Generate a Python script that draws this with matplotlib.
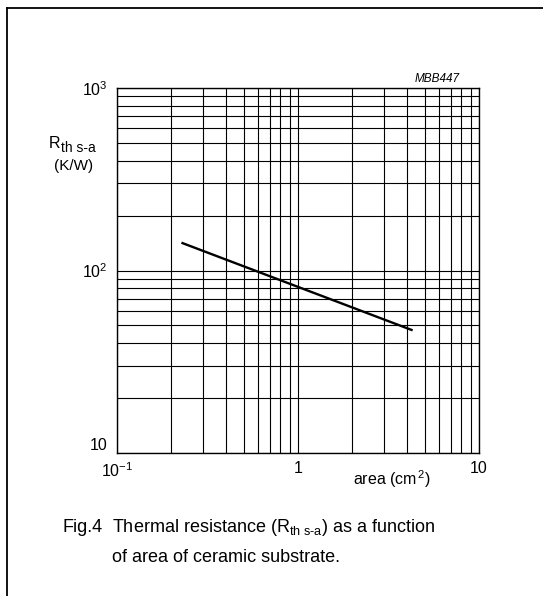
import matplotlib
matplotlib.use("Agg")
import matplotlib.pyplot as plt
from matplotlib.lines import Line2D

plt.rcParams['font.family'] = ['Liberation Sans', 'DejaVu Sans']
plt.rcParams['mathtext.fontset'] = 'custom'
plt.rcParams['mathtext.rm'] = 'Liberation Sans'
plt.rcParams['mathtext.it'] = 'Liberation Sans:italic'

# data
area = [0.227, 4.3]        # cm^2
rth = [142, 47]            # K/W
xticks = [0.1, 1, 10]
xlabels = ['10$^{-1}$', '1', '10']
yticks = [10, 100, 1000]
ylabels = ['10', '10$^2$', '10$^3$']

W, H = 543, 596
fig = plt.figure(figsize=(W / 100, H / 100), dpi=100)
ax = fig.add_axes([117 / W, 1 - 453 / H, 362 / W, 365 / H])

ax.set_xscale('log')
ax.set_yscale('log')
ax.set_xlim(0.1, 10)
ax.set_ylim(10, 1000)
ax.grid(True, which='both', color='black', lw=0.8)
ax.set_axisbelow(True)
for s in ax.spines.values():
    s.set_linewidth(1.0)

ax.plot(area, rth, color='black', lw=1.7, solid_capstyle='butt')

ax.set_xticks(xticks)
ax.set_xticklabels(xlabels, fontsize=11.5)
ax.set_yticks(yticks)
ax.set_yticklabels(ylabels, fontsize=11.5)
ax.tick_params(which='both', length=0)
ax.tick_params(axis='x', pad=6)
ax.tick_params(axis='y', pad=7)
ax.get_yticklabels()[0].set_verticalalignment('bottom')

# axis labels
fig.text(353 / W, 1 - 479 / H, r'area (cm$^{\,2}$)', fontsize=11.5, va='center', ha='left')
fig.text(49 / W, 1 - 148 / H, 'R', fontsize=11.5, ha='left', va='baseline')
fig.text(61 / W, 1 - 152 / H, 'th s-a', fontsize=10, ha='left', va='baseline')
fig.text(74 / W, 1 - 166 / H, '(K/W)', fontsize=11, ha='center', va='center')
fig.text(460 / W, 1 - 79 / H, 'MBB447', fontsize=8.5, style='italic', ha='right', va='center')

# caption
fig.text(62 / W, 1 - 527 / H, 'Fig.4', fontsize=13, va='center')
fig.text(112 / W, 1 - 527 / H, r'Thermal resistance (R$_{\mathrm{th\ s\text{-}a}}$) as a function',
         fontsize=13, va='center')
fig.text(112 / W, 1 - 557 / H, 'of area of ceramic substrate.', fontsize=13, va='center')

# outer frame (left and top visible)
fig.add_artist(Line2D([7 / W, 7 / W], [1 - 8 / H, -0.01], transform=fig.transFigure, color='black', lw=1.3))
fig.add_artist(Line2D([7 / W, 1.01], [1 - 8 / H, 1 - 8 / H], transform=fig.transFigure, color='black', lw=1.3))

fig.savefig('out.png', dpi=100)
